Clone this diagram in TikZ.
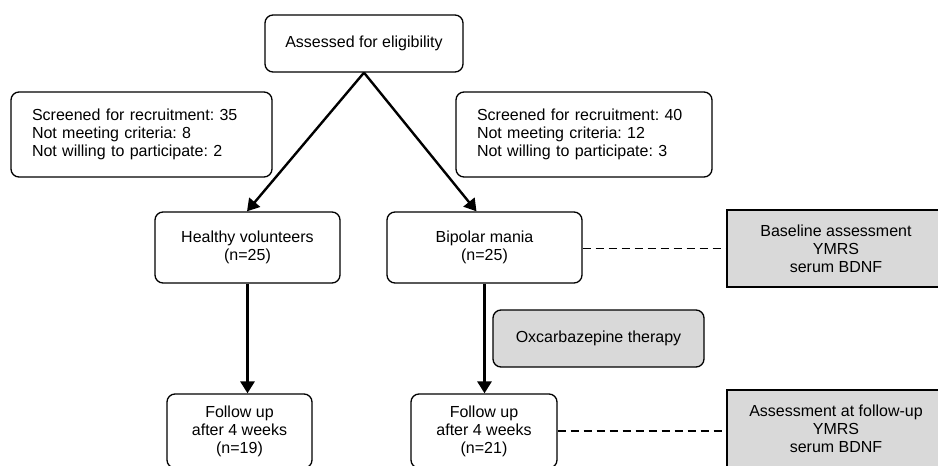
\documentclass[tikz,border=0pt]{standalone}
\usepackage{fontspec}
\setmainfont{Liberation Sans}
\usetikzlibrary{arrows.meta}
\frenchspacing
\begin{document}
\begin{tikzpicture}[x=1pt,y=-1pt,
  every node/.style={font=\fontsize{16pt}{18pt}\selectfont},
  wbox/.style={draw=black, line width=1.3pt, rounded corners=8pt, fill=white, align=center, inner sep=0pt},
  gbox/.style={draw=black, line width=1.3pt, fill=gray!30!white, align=center, inner sep=0pt},
  gbox rounded/.style={gbox, rounded corners=8pt},
  sbox/.style={wbox, align=left, inner xsep=21pt, inner ysep=0pt},
  arr/.style={line width=2.4pt, -{Triangle[width=14pt,length=12pt]}},
  varr/.style={line width=3pt, -{Triangle[width=14pt,length=12pt]}},
  dsh/.style={line width=1.1pt, dash pattern=on 8pt off 5pt}
]
\useasboundingbox (0,0) rectangle (938,466);
\clip (0,0) rectangle (938,466);

\node[wbox, minimum width=198pt, minimum height=57pt] (ass) at (364,43.5) {Assessed for eligibility};

\node[sbox, text width=219pt, minimum height=85pt] (scrL) at (141.5,134.5)
  {Screened for recruitment: 35\\Not meeting criteria: 8\\Not willing to participate: 2};
\node[sbox, text width=214pt, minimum height=85pt] (scrR) at (584,134.5)
  {Screened for recruitment: 40\\Not meeting criteria: 12\\Not willing to participate: 3};

\node[wbox, minimum width=185pt, minimum height=71pt] (hv) at (247.5,247.5) {Healthy volunteers\\(n=25)};
\node[wbox, minimum width=195pt, minimum height=71pt] (bip) at (484.5,247.5) {Bipolar mania\\(n=25)};

\node[gbox, minimum width=218pt, minimum height=77pt] (base) at (836,248.5) {Baseline assessment\\YMRS\\serum BDNF};

\node[gbox rounded, minimum width=211pt, minimum height=57pt] (oxc) at (598.5,338.5) {Oxcarbazepine therapy};

\node[wbox, minimum width=145pt, minimum height=74pt] (fu1) at (239.5,431) {Follow up\\after 4 weeks\\(n=19)};
\node[wbox, minimum width=146pt, minimum height=74pt] (fu2) at (484,431) {Follow up\\after 4 weeks\\(n=21)};

\node[gbox, minimum width=218pt, minimum height=77pt] (fua) at (836,428.5) {Assessment at follow-up\\YMRS\\serum BDNF};

\draw[arr] (ass.south) -- ([xshift=-0.5pt]hv.north);
\draw[arr] (ass.south) -- ([xshift=-8pt]bip.north);
\draw[varr] (hv.south) -- (hv.south |- fu1.north);
\draw[varr] (bip.south) -- (bip.south |- fu2.north);
\draw[dsh] (bip.east |- base.west) -- (base.west);
\draw[dsh] (fu2.east) -- (fu2.east -| fua.west);
\end{tikzpicture}
\end{document}
